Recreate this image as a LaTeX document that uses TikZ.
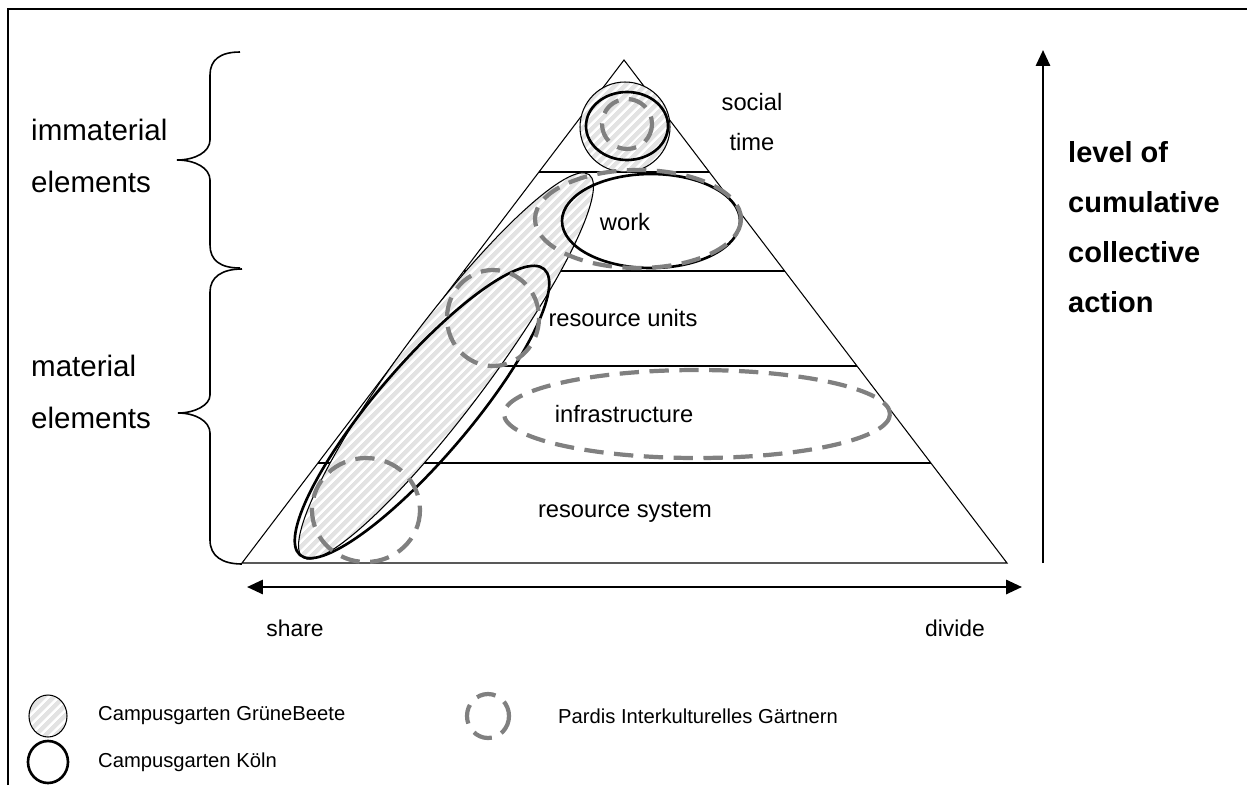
\documentclass[tikz,border=0pt]{standalone}
\usepackage{fontspec}
\setmainfont{Liberation Sans}
\usetikzlibrary{calc,arrows.meta,patterns.meta}
\definecolor{pardisgray}{RGB}{128,128,128}

\tikzset{
  thinline/.style={line width=0.6pt},
  koeln/.style={draw=black,line width=1.5pt},
  pardis/.style={draw=pardisgray,line width=2.4pt,dash pattern=on 11pt off 6pt},
  gruene/.style={preaction={fill=gray!22},
    pattern={Lines[angle=45,distance=4pt,line width=1.4pt]},pattern color=white,
    draw=black,line width=0.6pt},
  layer/.style={font=\fontsize{13.5}{22.8}\selectfont,align=center},
  side/.style={font=\fontsize{16.8}{29.5}\selectfont,align=left,anchor=west},
  legend/.style={font=\fontsize{11.5}{14}\selectfont,anchor=west},
  axis/.style={line width=1.4pt},
}

\begin{document}
\begin{tikzpicture}[x=0.02cm,y=-0.02cm]
    \useasboundingbox (0,0) rectangle (1247,785);
    \draw[line width=0.8pt] (8,785) -- (8,9) -- (1247,9);

    % pyramid
    \coordinate (apex) at (624,60);
    \coordinate (bl) at (242,563);
    \coordinate (br) at (1007,563);
    \draw[thinline] (bl) -- (apex) -- (br) -- cycle;
    \foreach \t in {0.2227,0.4195,0.6083,0.8012}
      \draw[thinline] ($(apex)!\t!(bl)$) -- ($(apex)!\t!(br)$);

    % cases
    \draw[gruene,rotate around={53.2:(446,366)}] (446,366) ellipse [x radius=239,y radius=44];
    \draw[koeln,rotate around={49.5:(422,412)}] (422,412) ellipse [x radius=188,y radius=47];
    \draw[gruene] (625,127) circle [radius=45];
    \draw[koeln] (627,126) ellipse [x radius=41,y radius=34];
    \draw[pardis] (627,124) circle [radius=25];
    \draw[koeln] (651,221) ellipse [x radius=89,y radius=47];
    \draw[pardis] (638,219) ellipse [x radius=103,y radius=49];
    \draw[pardis] (493,318) ellipse [x radius=46,y radius=48];
    \draw[pardis] (697,414) ellipse [x radius=193,y radius=44];
    \draw[pardis] (366,510) ellipse [x radius=54,y radius=52];

    \node[layer] (social) at (752,122) {social\\time};
    \node[layer] (work) at (625,222) {work};
    \node[layer] (units) at (623,318) {resource units};
    \node[layer] (infra) at (624,414) {infrastructure};
    \node[layer] (system) at (625,512) {resource system};

    % braces
    \draw[line width=0.9pt] (240,52) .. controls (220,52) and (210,60) .. (210,75) -- (210,140)
      .. controls (210,152) and (195,160) .. (177,160) .. controls (195,160) and (210,168) .. (210,180)
      -- (210,245) .. controls (210,260) and (220,268) .. (240,268);
    \draw[line width=0.9pt] (242,269) .. controls (222,269) and (210,277) .. (210,292) -- (210,395)
      .. controls (210,405) and (195,413) .. (178,413) .. controls (195,413) and (210,421) .. (210,433)
      -- (210,540) .. controls (210,556) and (222,564) .. (242,564);
    \node[side] (immat) at (25,156) {immaterial\\elements};
    \node[side] (mat) at (25,392) {material\\elements};

    % axes
    \coordinate (lvlbot) at (1043,563);
    \coordinate (lvltop) at (1043,50);
    \draw[axis,-{Triangle[length=9pt,width=8pt]}] (lvlbot) -- (lvltop);
    \node[side,font=\bfseries\fontsize{16.5}{28.4}\selectfont] (level) at (1062,227)
      {level of\\cumulative\\collective\\action};
    \coordinate (sharept) at (247,587);
    \coordinate (dividept) at (1022,587);
    \draw[axis,{Triangle[length=9pt,width=8pt]}-{Triangle[length=9pt,width=8pt]}] (sharept) -- (dividept);
    \node[font=\fontsize{13}{16}\selectfont] (share) at (295,628) {share};
    \node[font=\fontsize{13}{16}\selectfont] (divide) at (955,628) {divide};

    % legend
    \draw[gruene] (48,716) ellipse [x radius=19,y radius=21];
    \node[legend] (lgruene) at (92,716) {Campusgarten GrüneBeete};
    \draw[pardis] (488,716) ellipse [x radius=21,y radius=22];
    \node[legend] (lpardis) at (552,716) {Pardis Interkulturelles Gärtnern};
    \draw[koeln] (48,762) ellipse [x radius=20,y radius=21];
    \node[legend] (lkoeln) at (92,762) {Campusgarten Köln};
\end{tikzpicture}
\end{document}
